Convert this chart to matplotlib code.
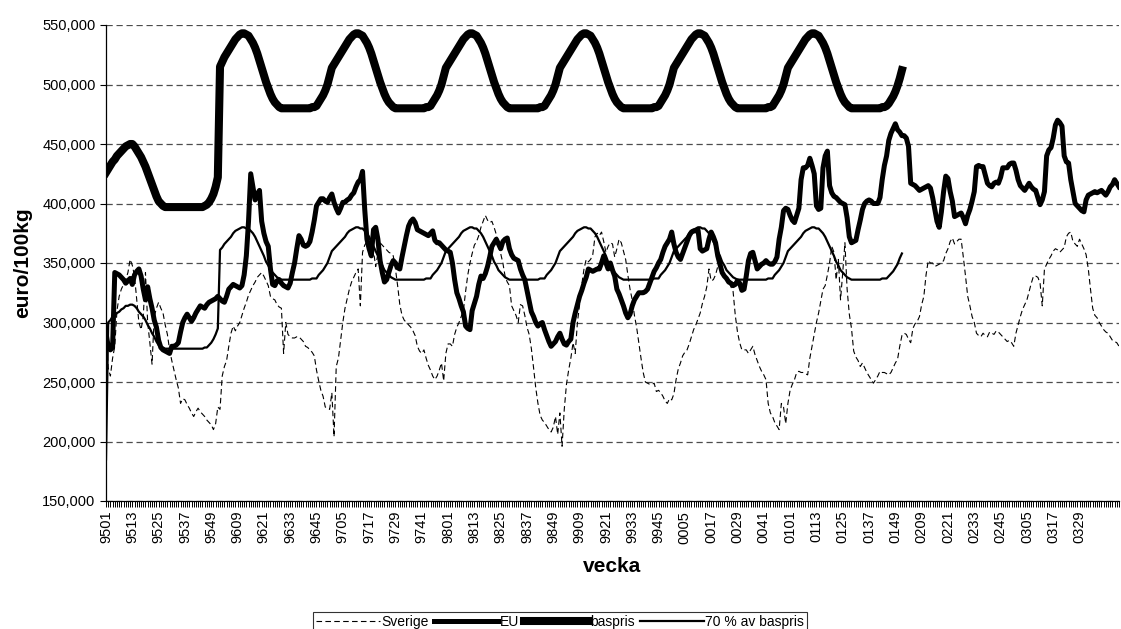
import numpy as np
import matplotlib
matplotlib.use('Agg')
import matplotlib.pyplot as plt
from matplotlib.ticker import FuncFormatter, FixedLocator

plt.rcParams['font.family'] = ['Liberation Sans', 'DejaVu Sans']

# week labels: yyww, 52 weeks per year, 1995 w1 .. 2003 w47
years = ['95', '96', '97', '98', '99', '00', '01', '02', '03']

# ---- Sverige (euro/100kg) per year ----
sv_1995 = [295, 262, 255, 270, 280, 310, 322, 328, 332, 336, 342, 353, 348, 339, 319, 300, 294, 305, 342, 300,
           283, 265, 305, 312, 317, 312, 308, 298, 290, 277, 268, 260, 252, 245, 232, 236, 235, 231, 228, 224,
           221, 225, 228, 225, 223, 221, 218, 216, 214, 210, 215, 229]
sv_1996 = [227, 255, 263, 268, 280, 291, 297, 293, 297, 300, 306, 312, 317, 323, 327, 331, 334, 338, 340, 342,
           339, 335, 331, 322, 320, 319, 315, 313, 312, 274, 300, 290, 288, 287, 287, 288, 288, 286, 284, 280,
           279, 277, 275, 272, 260, 251, 243, 238, 229, 228, 227, 241]
sv_1997 = [204, 263, 270, 285, 300, 312, 320, 328, 334, 338, 342, 345, 314, 359, 365, 368, 370, 368, 360, 347,
           358, 367, 365, 363, 361, 359, 358, 356, 345, 331, 315, 306, 302, 300, 298, 296, 293, 289, 280, 276,
           274, 277, 270, 264, 260, 255, 252, 255, 260, 266, 251, 274]
sv_1998 = [282, 282, 280, 290, 296, 300, 305, 310, 326, 340, 350, 358, 365, 368, 373, 380, 385, 390, 386, 384,
           385, 380, 374, 365, 358, 350, 339, 334, 331, 314, 310, 306, 300, 315, 314, 306, 296, 290, 278, 262,
           245, 232, 222, 218, 216, 213, 210, 208, 212, 221, 206, 224]
sv_1999 = [196, 227, 248, 260, 270, 283, 274, 300, 315, 332, 345, 353, 351, 353, 357, 372, 375, 373, 376, 368,
           359, 364, 367, 366, 355, 362, 370, 367, 360, 353, 340, 328, 319, 306, 296, 283, 270, 258, 250, 249,
           248, 248, 249, 242, 243, 241, 238, 234, 232, 236, 235, 240]
sv_2000 = [252, 261, 266, 272, 275, 277, 282, 288, 294, 298, 303, 308, 316, 322, 330, 345, 335, 336, 340, 347,
           345, 342, 340, 338, 335, 330, 326, 306, 292, 283, 277, 277, 277, 274, 277, 280, 273, 268, 263, 259,
           256, 252, 232, 224, 221, 216, 213, 210, 232, 229, 215, 232]
sv_2001 = [243, 248, 252, 258, 259, 258, 258, 257, 256, 270, 280, 290, 300, 308, 318, 328, 331, 340, 350, 364,
           359, 336, 353, 319, 342, 367, 328, 307, 295, 276, 271, 268, 263, 266, 262, 258, 255, 252, 249, 252,
           255, 259, 258, 258, 257, 256, 258, 262, 266, 269, 280, 289]
sv_2002 = [291, 290, 286, 283, 295, 299, 301, 305, 315, 322, 340, 352, 350, 350, 347, 348, 349, 350, 352, 358,
           362, 368, 371, 366, 368, 370, 370, 355, 339, 322, 314, 305, 300, 291, 289, 288, 291, 289, 288, 292,
           291, 290, 293, 292, 290, 288, 286, 284, 285, 283, 280, 291]
sv_2003 = [298, 305, 311, 315, 319, 326, 333, 339, 339, 338, 333, 314, 345, 349, 353, 356, 360, 362, 361, 359,
           361, 363, 372, 375, 376, 368, 366, 364, 370, 366, 362, 357, 345, 328, 312, 306, 304, 300, 297, 294,
           292, 291, 288, 285, 284, 283, 280]

# ---- EU ----
eu_1995 = [291, 280, 277, 279, 342, 341, 340, 338, 336, 333, 335, 337, 332, 340, 343, 345, 339, 328, 319, 330,
           320, 312, 302, 296, 285, 279, 277, 276, 275, 274, 280, 280, 281, 283, 292, 300, 304, 307, 304, 301,
           304, 308, 311, 314, 313, 312, 315, 317, 318, 319, 320, 322]
eu_1996 = [320, 318, 317, 322, 328, 330, 332, 331, 330, 329, 331, 340, 356, 385, 425, 414, 403, 408, 411, 385,
           375, 368, 364, 345, 332, 331, 335, 336, 333, 331, 330, 329, 333, 342, 350, 362, 373, 370, 365, 364,
           365, 368, 376, 386, 398, 401, 404, 404, 402, 401, 405, 408]
eu_1997 = [401, 396, 392, 396, 401, 401, 403, 404, 407, 409, 414, 418, 420, 427, 395, 370, 362, 356, 378, 380,
           370, 352, 342, 334, 336, 342, 348, 352, 350, 346, 345, 355, 364, 373, 381, 385, 387, 384, 378, 377,
           376, 375, 374, 373, 375, 377, 369, 367, 367, 365, 363, 361]
eu_1998 = [360, 359, 350, 336, 325, 320, 314, 309, 297, 295, 294, 310, 316, 322, 332, 339, 337, 341, 347, 355,
           364, 367, 370, 366, 362, 368, 370, 371, 362, 357, 354, 353, 352, 345, 340, 336, 327, 318, 309, 305,
           300, 297, 299, 300, 294, 289, 284, 280, 282, 284, 288, 291]
eu_1999 = [286, 282, 281, 284, 286, 300, 308, 315, 322, 327, 333, 338, 345, 344, 343, 344, 345, 345, 350, 356,
           350, 345, 350, 344, 339, 328, 324, 319, 314, 308, 304, 307, 314, 319, 322, 325, 325, 325, 326, 328,
           333, 338, 343, 346, 350, 353, 359, 364, 367, 370, 376, 366]
eu_2000 = [359, 355, 353, 358, 363, 368, 373, 376, 377, 377, 378, 362, 360, 361, 362, 370, 376, 372, 367, 356,
           349, 342, 339, 337, 334, 333, 331, 332, 335, 333, 327, 328, 339, 352, 358, 359, 352, 345, 347, 349,
           350, 352, 350, 349, 349, 351, 355, 370, 380, 394, 396, 395]
eu_2001 = [390, 386, 384, 390, 396, 420, 430, 430, 432, 438, 432, 425, 398, 395, 396, 430, 440, 444, 415, 409,
           406, 405, 403, 401, 400, 399, 388, 372, 367, 368, 369, 378, 386, 395, 400, 402, 403, 402, 400, 400,
           400, 405, 420, 432, 440, 453, 459, 463, 467, 462, 460, 457]
eu_2002 = [457, 455, 448, 417, 416, 415, 413, 411, 412, 413, 414, 415, 413, 405, 395, 385, 380, 393, 410, 423,
           421, 410, 402, 389, 390, 391, 392, 388, 383, 390, 395, 402, 410, 431, 432, 431, 431, 424, 417, 415,
           414, 417, 418, 417, 422, 430, 430, 430, 433, 434, 434, 428]
eu_2003 = [420, 415, 413, 411, 414, 417, 414, 412, 411, 405, 399, 403, 410, 440, 445, 447, 455, 466, 470, 468,
           465, 440, 435, 434, 420, 410, 400, 398, 396, 394, 393, 403, 407, 408, 409, 410, 409, 410, 411, 409,
           407, 410, 414, 416, 420, 417, 414]

# ---- baspris ----
bp_1995 = [426, 429, 432, 435, 437, 440, 442, 444, 446, 448, 449, 450, 450, 448, 445, 442, 439, 435, 431, 426,
           421, 416, 411, 406, 402, 400, 398, 397, 397, 397, 397, 397, 397, 397, 397, 397, 397, 397, 397, 397,
           397, 397, 397, 397, 397, 398, 399, 401, 404, 408, 414, 422]
bp_1996 = [515, 519, 523, 526, 529, 532, 535, 538, 540, 542, 543, 543, 542, 541, 538, 535, 531, 526, 520, 514,
           508, 502, 497, 492, 488, 485, 483, 481, 480, 480, 480, 480, 480, 480, 480, 480, 480, 480, 480, 480,
           480, 480, 481, 481, 482, 485, 488, 491, 495, 500, 507, 514]
bp_1997 = [517, 520, 523, 526, 529, 532, 535, 538, 540, 542, 543, 543, 542, 541, 538, 535, 531, 526, 520, 514,
           508, 502, 497, 492, 488, 485, 483, 481, 480, 480, 480, 480, 480, 480, 480, 480, 480, 480, 480, 480,
           480, 480, 481, 481, 482, 485, 488, 491, 495, 500, 507, 514]
bp_1998 = [517, 520, 523, 526, 529, 532, 535, 538, 540, 542, 543, 543, 542, 541, 538, 535, 531, 526, 520, 514,
           508, 502, 497, 492, 488, 485, 483, 481, 480, 480, 480, 480, 480, 480, 480, 480, 480, 480, 480, 480,
           480, 480, 481, 481, 482, 485, 488, 491, 495, 500, 507, 514]
bp_1999 = [517, 520, 523, 526, 529, 532, 535, 538, 540, 542, 543, 543, 542, 541, 538, 535, 531, 526, 520, 514,
           508, 502, 497, 492, 488, 485, 483, 481, 480, 480, 480, 480, 480, 480, 480, 480, 480, 480, 480, 480,
           480, 480, 481, 481, 482, 485, 488, 491, 495, 500, 507, 514]
bp_2000 = [517, 520, 523, 526, 529, 532, 535, 538, 540, 542, 543, 543, 542, 541, 538, 535, 531, 526, 520, 514,
           508, 502, 497, 492, 488, 485, 483, 481, 480, 480, 480, 480, 480, 480, 480, 480, 480, 480, 480, 480,
           480, 480, 481, 481, 482, 485, 488, 491, 495, 500, 507, 514]
bp_2001 = [517, 520, 523, 526, 529, 532, 535, 538, 540, 542, 543, 543, 542, 541, 538, 535, 531, 526, 520, 514,
           508, 502, 497, 492, 488, 485, 483, 481, 480, 480, 480, 480, 480, 480, 480, 480, 480, 480, 480, 480,
           480, 480, 481, 481, 482, 484, 487, 490, 494, 499, 505, 512]

# ---- 70 % av baspris ----
p70_1995 = [185, 300, 302, 305, 306, 308, 309, 311, 312, 314, 314, 315, 315, 314, 312, 309, 307, 305, 302, 298,
            295, 291, 288, 284, 281, 280, 279, 278, 278, 278, 278, 278, 278, 278, 278, 278, 278, 278, 278, 278,
            278, 278, 278, 278, 278, 279, 279, 281, 283, 286, 290, 295]
p70_1996 = [361, 363, 366, 368, 370, 372, 375, 377, 378, 379, 380, 380, 379, 379, 377, 375, 372, 368, 364, 360,
            356, 351, 348, 344, 342, 340, 338, 337, 336, 336, 336, 336, 336, 336, 336, 336, 336, 336, 336, 336,
            336, 336, 337, 337, 337, 340, 342, 344, 347, 350, 355, 360]
p70_1997 = [362, 364, 366, 368, 370, 372, 375, 377, 378, 379, 380, 380, 379, 379, 377, 375, 372, 368, 364, 360,
            356, 351, 348, 344, 342, 340, 338, 337, 336, 336, 336, 336, 336, 336, 336, 336, 336, 336, 336, 336,
            336, 336, 337, 337, 337, 340, 342, 344, 347, 350, 355, 360]
p70_1998 = [362, 364, 366, 368, 370, 372, 375, 377, 378, 379, 380, 380, 379, 379, 377, 375, 372, 368, 364, 360,
            356, 351, 348, 344, 342, 340, 338, 337, 336, 336, 336, 336, 336, 336, 336, 336, 336, 336, 336, 336,
            336, 336, 337, 337, 337, 340, 342, 344, 347, 350, 355, 360]
p70_1999 = [362, 364, 366, 368, 370, 372, 375, 377, 378, 379, 380, 380, 379, 379, 377, 375, 372, 368, 364, 360,
            356, 351, 348, 344, 342, 340, 338, 337, 336, 336, 336, 336, 336, 336, 336, 336, 336, 336, 336, 336,
            336, 336, 337, 337, 337, 340, 342, 344, 347, 350, 355, 360]
p70_2000 = [362, 364, 366, 368, 370, 372, 375, 377, 378, 379, 380, 380, 379, 379, 377, 375, 372, 368, 364, 360,
            356, 351, 348, 344, 342, 340, 338, 337, 336, 336, 336, 336, 336, 336, 336, 336, 336, 336, 336, 336,
            336, 336, 337, 337, 337, 340, 342, 344, 347, 350, 355, 360]
p70_2001 = [362, 364, 366, 368, 370, 372, 375, 377, 378, 379, 380, 380, 379, 379, 377, 375, 372, 368, 364, 360,
            356, 351, 348, 344, 342, 340, 338, 337, 336, 336, 336, 336, 336, 336, 336, 336, 336, 336, 336, 336,
            336, 336, 337, 337, 337, 339, 341, 343, 346, 349, 354, 358]

sverige = sv_1995 + sv_1996 + sv_1997 + sv_1998 + sv_1999 + sv_2000 + sv_2001 + sv_2002 + sv_2003
eu = eu_1995 + eu_1996 + eu_1997 + eu_1998 + eu_1999 + eu_2000 + eu_2001 + eu_2002 + eu_2003
baspris = bp_1995 + bp_1996 + bp_1997 + bp_1998 + bp_1999 + bp_2000 + bp_2001
p70 = p70_1995 + p70_1996 + p70_1997 + p70_1998 + p70_1999 + p70_2000 + p70_2001

weeks = [y + '%02d' % w for y in years for w in range(1, 53)][:len(eu)]

x = np.arange(len(weeks))

fig = plt.figure(figsize=(11.21, 6.29), dpi=100)
ax = fig.add_axes([106/1121, 1-501/629, (1119-106)/1121, (501-25)/629])

l1, = ax.plot(x[:len(sverige)], sverige, color='black', lw=0.8, ls=(0, (5, 3)), label='Sverige')
l2, = ax.plot(x[:len(eu)], eu, color='black', lw=3.6, label='EU')
l3, = ax.plot(x[:len(baspris)], baspris, color='black', lw=5.8, label='baspris')
l4, = ax.plot(x[:len(p70)], p70, color='black', lw=1.6, label='70 % av baspris')

ax.set_xlim(0, len(weeks) - 1)
ax.set_ylim(150, 550)
ax.set_yticks(np.arange(150, 551, 50))
ax.yaxis.set_major_formatter(FuncFormatter(lambda v, p: ('%.3f' % v).replace('.', ',')))
ax.yaxis.grid(True, color='0.3', linestyle=(0, (5, 3)), linewidth=0.9)
ax.set_axisbelow(True)

lab_idx = list(range(0, 445, 12))
ax.set_xticks(lab_idx)
ax.set_xticklabels([weeks[i] for i in lab_idx], rotation=90, fontsize=10.5)
ax.xaxis.set_minor_locator(FixedLocator(x))
ax.tick_params(axis='x', which='both', direction='out', length=4, width=0.7, pad=3)
ax.tick_params(axis='y', direction='out', length=4, width=0.8, labelsize=10.5)

ax.spines['top'].set_visible(False)
ax.spines['right'].set_visible(False)
ax.spines['left'].set_linewidth(0.9)
ax.spines['bottom'].set_linewidth(0.9)

fig.text(23/1121, 1-263/629, 'euro/100kg', rotation=90, ha='center', va='center',
         fontsize=15, fontweight='bold')
fig.text(612/1121, 1-567/629, 'vecka', ha='center', va='center', fontsize=15, fontweight='bold')

leg = fig.legend(handles=[l1, l2, l3, l4], loc='upper center', bbox_to_anchor=(560/1121, 1-605/629),
                 ncol=4, fontsize=10, frameon=True, fancybox=False, edgecolor='black',
                 handlelength=4.6, handletextpad=0.1, columnspacing=0.4, borderpad=0.2)
leg.get_frame().set_linewidth(0.8)

fig.savefig('out.png', dpi=100)
